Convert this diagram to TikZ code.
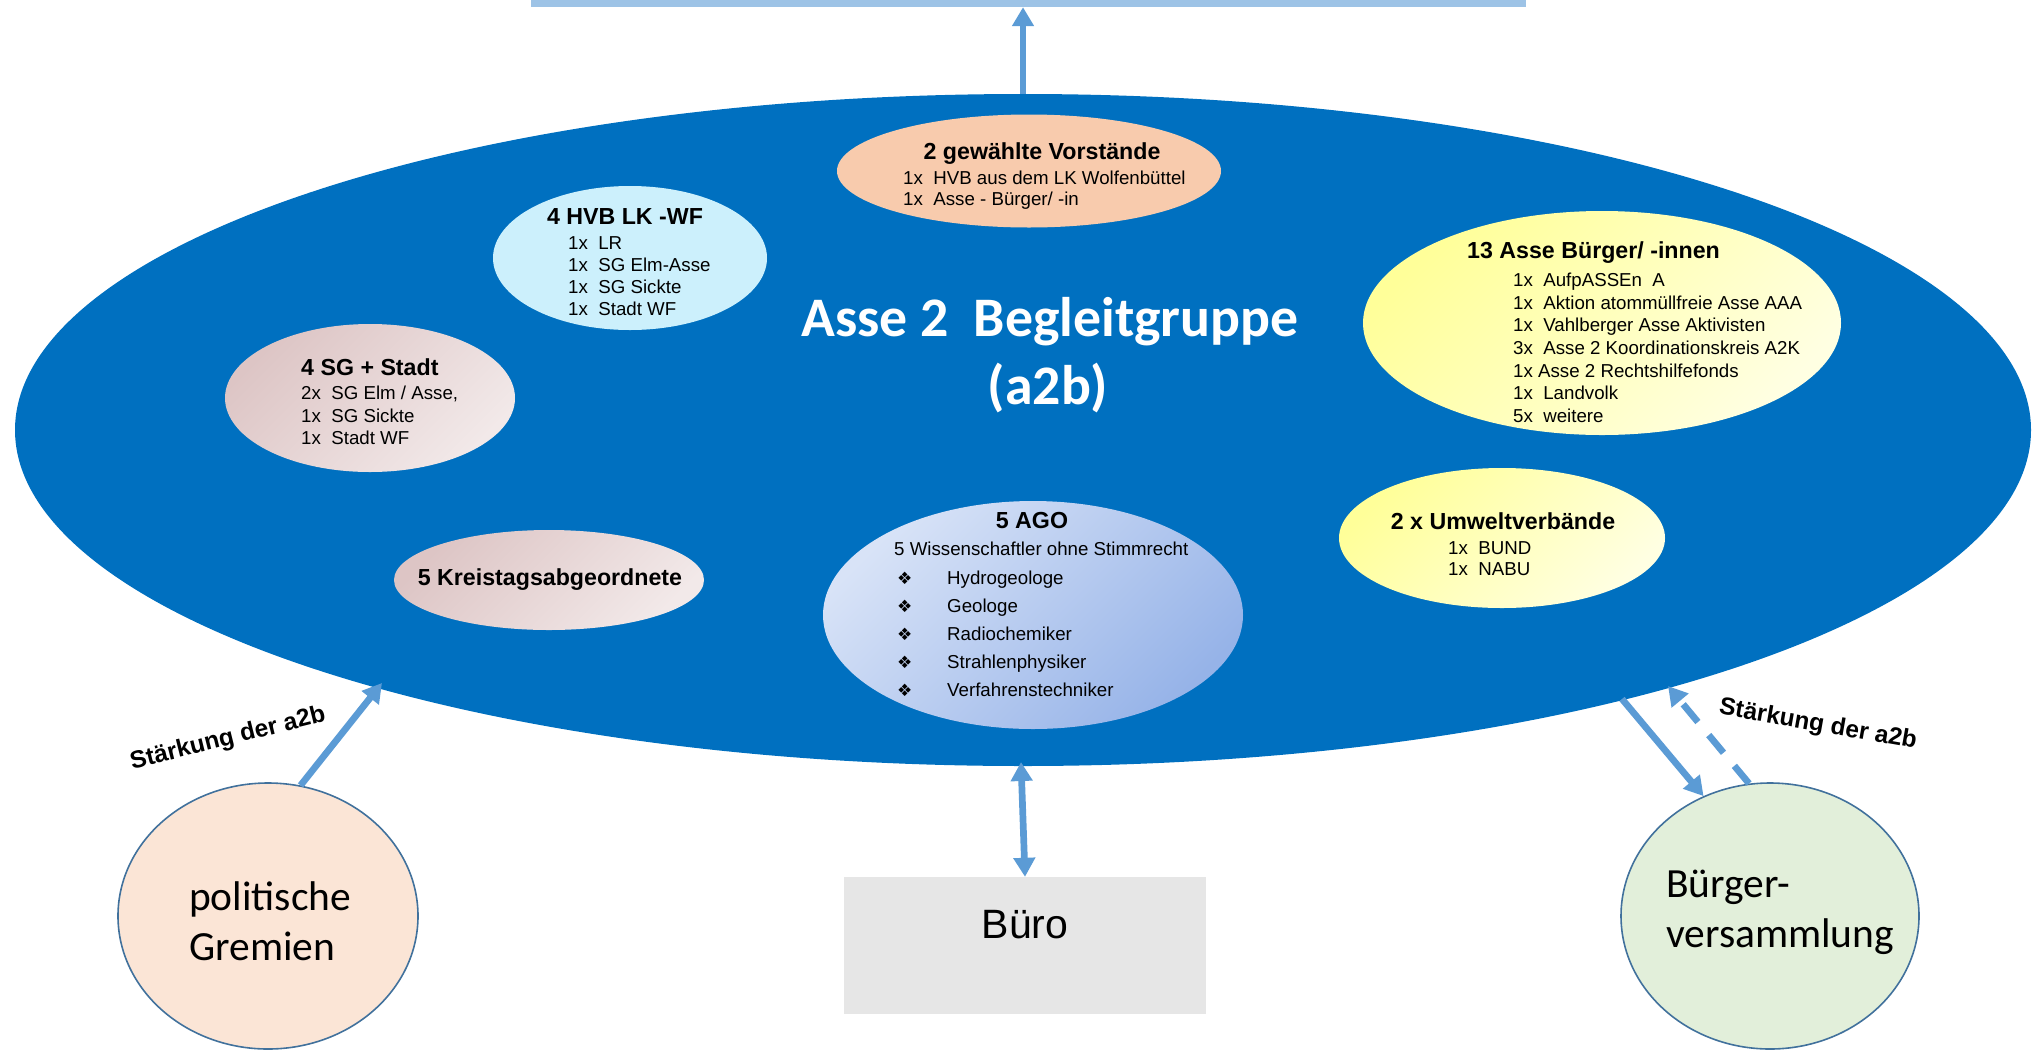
\documentclass[tikz,border=0pt]{standalone}
\usepackage{fontspec}
\setmainfont{Liberation Sans}
\newfontfamily\calibri{Carlito}
\newfontfamily\symb{DejaVu Sans}
\usetikzlibrary{shapes.geometric,arrows.meta}
\definecolor{bigblue}{HTML}{0070C0}
\definecolor{arrowblue}{HTML}{5B9BD5}
\definecolor{barblue}{HTML}{9DC3E6}
\definecolor{peach}{HTML}{F8CBAD}
\definecolor{hvbcyan}{HTML}{CCF0FC}
\definecolor{pinkA}{HTML}{DDC5C5}
\definecolor{pinkB}{HTML}{F2E9E9}
\definecolor{agoA}{HTML}{D8E3F7}
\definecolor{agoB}{HTML}{96B3E8}
\definecolor{yelA}{HTML}{FFFF99}
\definecolor{yelB}{HTML}{FFFFE2}
\definecolor{polfill}{HTML}{FBE5D6}
\definecolor{bvfill}{HTML}{E2EFDA}
\definecolor{rimblue}{HTML}{41719C}
\definecolor{bueroGrey}{HTML}{E6E6E6}
\begin{document}
\begin{tikzpicture}[x=1pt,y=-1pt,
  ell/.style={ellipse, inner sep=0pt, draw=none},
  grad/.style 2 args={top color=#1, bottom color=#2, shading angle=45},
  ttl/.style={inner sep=0pt, font=\fontsize{23.2}{27}\selectfont\bfseries},
  itm/.style={inner sep=0pt, font=\fontsize{18.7}{22}\selectfont},
  bul/.style={inner sep=0pt, font=\symb\fontsize{17}{18}\selectfont},
  big title/.style={inner sep=0pt, text=white, font=\calibri\bfseries\fontsize{55.8}{60}\selectfont},
  cal/.style={inner sep=0pt, font=\calibri\fontsize{41.5}{46}\selectfont},
  lbl/.style={inner sep=0pt, font=\bfseries\fontsize{24.5}{28}\selectfont},
  tipA/.tip={Triangle[width=21pt,length=19pt]},
  conn/.style={draw=arrowblue, line width=6.7pt},
  outer/.style={ellipse, inner sep=0pt, draw=rimblue, line width=1.6pt}
]
\useasboundingbox (0,0) rectangle (2042,1050);

% main ellipse
\node[ell, fill=bigblue, minimum width=2016pt, minimum height=672pt] (big) at (1023,430) {};

% top bar
\node[rectangle, fill=barblue, inner sep=0pt, minimum width=995pt, minimum height=8pt] (bar) at (1028.5,3) {};

% inner ellipses
\node[ell, fill=peach, minimum width=384pt, minimum height=113pt] (vor) at (1029,171) {};
\node[ell, fill=hvbcyan, minimum width=274pt, minimum height=144pt] (hvb) at (630,258) {};
\node[ell, grad={pinkA}{pinkB}, minimum width=290pt, minimum height=148pt] (sg) at (370,398) {};
\node[ell, grad={pinkA}{pinkB}, minimum width=310pt, minimum height=100pt] (kreis) at (549,580) {};
\node[ell, grad={agoA}{agoB}, minimum width=420pt, minimum height=228pt] (ago) at (1033,615) {};
\node[ell, grad={yelA}{yelB}, minimum width=478pt, minimum height=224pt] (asse) at (1602,323) {};
\node[ell, grad={yelA}{yelB}, minimum width=326pt, minimum height=140pt] (umw) at (1502,538) {};

% title
\node[big title, anchor=base] (title1) at (1050,336) {Asse 2\ \ Begleitgruppe};
\node[big title, anchor=base] (title2) at (1048,404) {(a2b)};

% Vorstaende
\node[ttl, anchor=base] (vorT) at (1042,159) {2 gewählte Vorstände};
\node[itm, anchor=base west] (vor1) at (903,184) {1x\ \ HVB aus dem LK Wolfenbüttel};
\node[itm, anchor=base west] (vor2) at (903,205) {1x\ \ Asse - Bürger/ -in};

% HVB
\node[ttl, anchor=base] (hvbT) at (625,224) {4 HVB LK -WF};
\node[itm, anchor=base west] (hvb1) at (568,249) {1x\ \ LR};
\node[itm, anchor=base west] (hvb2) at (568,271) {1x\ \ SG Elm-Asse};
\node[itm, anchor=base west] (hvb3) at (568,293) {1x\ \ SG Sickte};
\node[itm, anchor=base west] (hvb4) at (568,315) {1x\ \ Stadt WF};

% SG + Stadt
\node[ttl, anchor=base west] (sgT) at (301,375) {4 SG + Stadt};
\node[itm, anchor=base west] (sg1) at (301,399) {2x\ \ SG Elm / Asse,};
\node[itm, anchor=base west] (sg2) at (301,422) {1x\ \ SG Sickte};
\node[itm, anchor=base west] (sg3) at (301,444) {1x\ \ Stadt WF};

% Kreistag
\node[ttl, anchor=base] (kreisT) at (550,585) {5 Kreistagsabgeordnete};

% AGO
\node[ttl, anchor=base] (agoT) at (1032,528) {5 AGO};
\node[itm, anchor=base west] (agoS) at (894,555) {5 Wissenschaftler ohne Stimmrecht};
\node[bul, anchor=base west] (b1) at (897,584) {❖};
\node[itm, anchor=base west] (a1) at (947,584) {Hydrogeologe};
\node[bul, anchor=base west] (b2) at (897,612) {❖};
\node[itm, anchor=base west] (a2) at (947,612) {Geologe};
\node[bul, anchor=base west] (b3) at (897,640) {❖};
\node[itm, anchor=base west] (a3) at (947,640) {Radiochemiker};
\node[bul, anchor=base west] (b4) at (897,668) {❖};
\node[itm, anchor=base west] (a4) at (947,668) {Strahlenphysiker};
\node[bul, anchor=base west] (b5) at (897,696) {❖};
\node[itm, anchor=base west] (a5) at (947,696) {Verfahrenstechniker};

% 13 Asse Buerger
\node[ttl, anchor=base west] (asseT) at (1467,258) {13 Asse Bürger/ -innen};
\node[itm, anchor=base west] (as1) at (1513,286) {1x\ \ AufpASSEn\ \ A};
\node[itm, anchor=base west] (as2) at (1513,309) {1x\ \ Aktion atommüllfreie Asse AAA};
\node[itm, anchor=base west] (as3) at (1513,331) {1x\ \ Vahlberger Asse Aktivisten};
\node[itm, anchor=base west] (as4) at (1513,354) {3x\ \ Asse 2 Koordinationskreis A2K};
\node[itm, anchor=base west] (as5) at (1513,377) {1x Asse 2 Rechtshilfefonds};
\node[itm, anchor=base west] (as6) at (1513,399) {1x\ \ Landvolk};
\node[itm, anchor=base west] (as7) at (1513,422) {5x\ \ weitere};

% Umwelt
\node[ttl, anchor=base] (umwT) at (1503,529) {2 x Umweltverbände};
\node[itm, anchor=base west] (um1) at (1448,554) {1x\ \ BUND};
\node[itm, anchor=base west] (um2) at (1448,575) {1x\ \ NABU};

% bottom nodes
\node[outer, fill=polfill, minimum width=300pt, minimum height=266pt] (pol) at (268,916) {};
\node[outer, fill=bvfill, minimum width=298pt, minimum height=266pt] (bv) at (1770,916) {};
\node[rectangle, fill=bueroGrey, inner sep=0pt, minimum width=362pt, minimum height=137pt] (buero) at (1025,945.5) {};

\node[cal, anchor=base west] (pol1) at (189,910) {politische};
\node[cal, anchor=base west] (pol2) at (189,960) {Gremien};
\node[cal, anchor=base west] (bv1) at (1666,897) {Bürger-};
\node[cal, anchor=base west] (bv2) at (1666,947) {versammlung};
\node[inner sep=0pt, anchor=base, font=\fontsize{41}{46}\selectfont] (bueroT) at (1025,938) {Büro};

% connector end points on the big ellipse
\coordinate (tipL) at (382,683);
\coordinate (outR) at (1622,699);
\coordinate (tipR) at (1668,686);
\coordinate (tipB) at (1021,762);

% connectors
\draw[conn, -tipA] (big.north) -- (big.north |- bar.south);
\draw[conn, tipA-tipA] (buero.north) -- (tipB);
\draw[conn, -tipA] (pol.76) -- (tipL);
\draw[conn, -tipA] (outR) -- (bv.119.7);
\draw[conn, -tipA, dash pattern=on 23pt off 17pt] (bv.99.4) -- (tipR);

% labels
\node[lbl, rotate=14] (lblL) at (228,739) {Stärkung der a2b};
\node[lbl, rotate=-10] (lblR) at (1818,725) {Stärkung der a2b};
\end{tikzpicture}
\end{document}
